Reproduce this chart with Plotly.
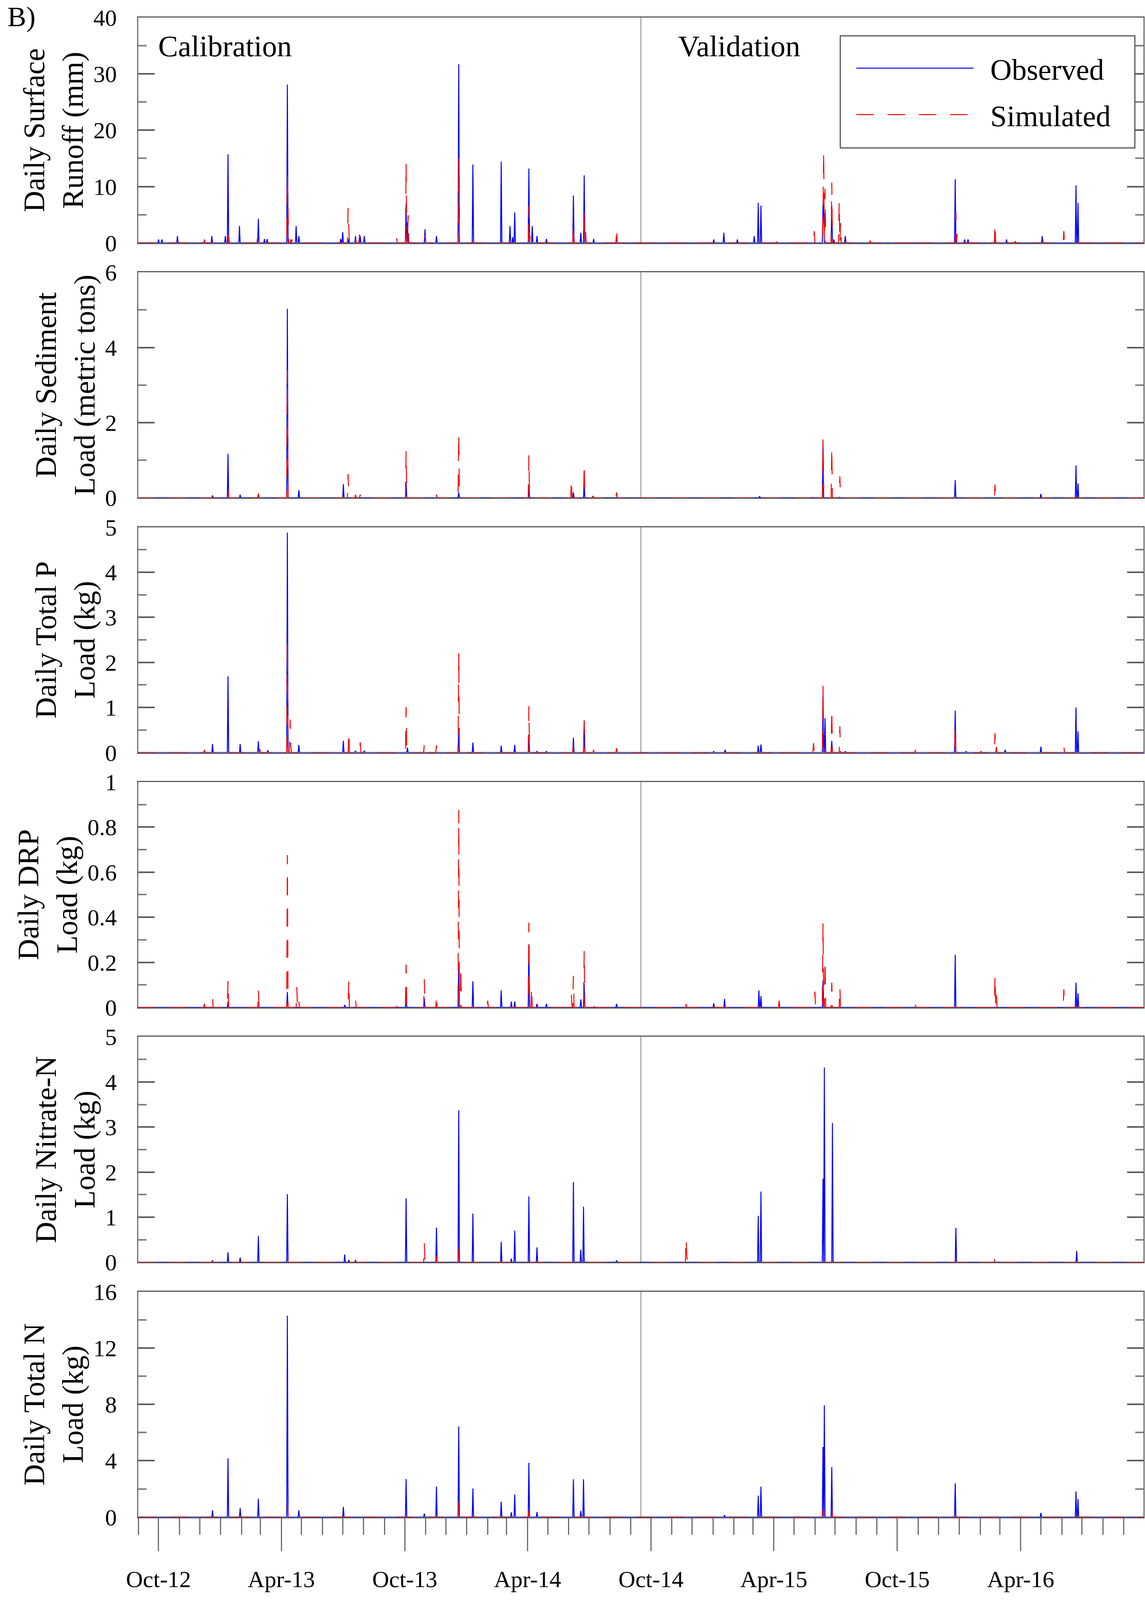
import pandas as pd
import plotly.graph_objects as go
from plotly.subplots import make_subplots

# ---------------- data ----------------
START, END = "2012-09-01", "2016-09-30"
VALIDATION_START = "2014-09-16"

# Panel 1: Daily Surface Runoff (mm)
runoff_obs_dates = ["2012-10-01", "2012-10-06", "2012-10-29", "2012-12-19", "2013-01-08", "2013-01-12",
                    "2013-01-29", "2013-02-26", "2013-03-07", "2013-03-11", "2013-04-10", "2013-04-23",
                    "2013-04-27", "2013-06-28", "2013-07-01", "2013-07-10", "2013-07-20", "2013-07-27",
                    "2013-08-02", "2013-10-03", "2013-10-05", "2013-10-31", "2013-11-17", "2013-12-20",
                    "2014-01-10", "2014-02-21", "2014-03-06", "2014-03-10", "2014-03-13", "2014-04-03",
                    "2014-04-08", "2014-04-15", "2014-04-29", "2014-06-08", "2014-06-19", "2014-06-24",
                    "2014-07-08", "2014-08-11", "2015-01-02", "2015-01-17", "2015-02-06", "2015-03-03",
                    "2015-03-09", "2015-03-13", "2015-06-13", "2015-06-14", "2015-06-26", "2015-06-29",
                    "2015-07-16", "2015-12-26", "2016-01-09", "2016-01-14", "2016-02-23", "2016-03-11",
                    "2016-05-03", "2016-06-22", "2016-06-25"]
runoff_obs_vals = [0.6, 0.6, 1.2, 1.2, 1.2, 15.7,
                   3.0, 4.3, 0.7, 0.7, 28.1, 3.0,
                   1.2, 0.7, 1.9, 0.7, 1.2, 1.2,
                   1.2, 7.0, 3.6, 2.4, 1.2, 31.7,
                   13.9, 14.4, 3.0, 1.0, 5.4, 13.2,
                   3.0, 1.2, 0.7, 8.4, 1.8, 12.0,
                   0.7, 1.2, 0.6, 1.8, 0.6, 1.2,
                   7.1, 6.6, 6.6, 7.7, 6.6, 0.6,
                   1.2, 11.3, 0.6, 0.6, 0.4, 0.6,
                   1.2, 10.2, 7.1]
runoff_sim_dates = ["2012-12-08", "2013-01-13", "2013-02-25", "2013-04-10", "2013-04-11", "2013-04-15",
                    "2013-04-17", "2013-07-09", "2013-07-10", "2013-07-20", "2013-07-26", "2013-09-19",
                    "2013-10-03", "2013-10-06", "2013-10-31", "2013-12-20", "2014-04-03", "2014-04-05",
                    "2014-06-08", "2014-06-24", "2014-06-26", "2014-08-11", "2014-09-08", "2015-04-06",
                    "2015-05-31", "2015-06-13", "2015-06-14", "2015-06-16", "2015-06-26", "2015-07-07",
                    "2015-07-09", "2015-08-22", "2015-10-27", "2015-12-27", "2015-12-29", "2016-02-03",
                    "2016-02-23", "2016-03-09", "2016-03-24", "2016-06-04"]
runoff_sim_vals = [0.6, 1.3, 1.3, 12.1, 6.3, 0.6,
                   0.6, 6.2, 2.4, 0.9, 1.5, 0.8,
                   14.1, 4.9, 1.4, 15.0, 6.6, 1.3,
                   3.2, 5.8, 1.9, 2.7, 0.4, 0.3,
                   2.1, 5.2, 16.2, 9.6, 10.7, 7.3,
                   3.5, 0.4, 1.1, 5.5, 1.7, 0.3,
                   3.4, 1.0, 0.3, 2.1]

# Panel 2: Daily Sediment Load (metric tons)
sed_obs_dates = ["2012-12-20", "2013-01-12", "2013-01-30", "2013-02-26", "2013-04-10", "2013-04-27",
                 "2013-07-02", "2013-10-03", "2013-12-20", "2014-04-03", "2014-06-08", "2014-06-24",
                 "2015-03-11", "2015-06-13", "2015-12-26", "2016-05-01", "2016-06-22", "2016-06-25"]
sed_obs_vals = [0.06, 1.17, 0.08, 0.08, 5.03, 0.2,
                0.36, 0.4, 0.14, 0.33, 0.14, 0.41,
                0.04, 1.44, 0.47, 0.1, 0.86, 0.38]
sed_sim_dates = ["2013-01-12", "2013-02-26", "2013-04-10", "2013-07-09", "2013-07-20", "2013-07-27",
                 "2013-10-03", "2013-11-17", "2013-12-20", "2014-04-03", "2014-06-05", "2014-06-24",
                 "2014-07-07", "2014-08-11", "2015-05-29", "2015-06-13", "2015-06-26", "2015-07-08",
                 "2015-12-26", "2016-02-23"]
sed_sim_vals = [0.17, 0.11, 3.4, 0.63, 0.08, 0.08,
                1.24, 0.08, 1.71, 1.13, 0.49, 0.9,
                0.05, 0.14, 0.14, 1.55, 1.33, 0.57,
                0.06, 0.35]

# Panel 3: Daily Total P Load (kg)
tp_obs_dates = ["2012-12-20", "2013-01-12", "2013-01-30", "2013-02-26", "2013-03-12", "2013-04-10",
                "2013-04-27", "2013-07-02", "2013-07-20", "2013-08-02", "2013-10-05", "2013-12-20",
                "2014-01-10", "2014-02-21", "2014-03-13", "2014-04-03", "2014-04-15", "2014-04-29",
                "2014-06-08", "2014-06-24", "2015-01-02", "2015-01-19", "2015-03-09", "2015-03-13",
                "2015-06-13", "2015-06-16", "2015-06-26", "2015-07-16", "2015-12-26", "2016-01-11",
                "2016-03-09", "2016-05-01", "2016-06-22", "2016-06-25"]
tp_obs_vals = [0.19, 1.69, 0.19, 0.25, 0.05, 4.88,
               0.17, 0.26, 0.04, 0.04, 0.11, 0.55,
               0.22, 0.15, 0.17, 0.37, 0.03, 0.03,
               0.33, 0.71, 0.03, 0.06, 0.15, 0.18,
               1.28, 0.76, 0.26, 0.03, 0.93, 0.03,
               0.06, 0.13, 1.0, 0.47]
tp_sim_dates = ["2012-12-08", "2013-02-28", "2013-04-10", "2013-04-14", "2013-04-15", "2013-07-10",
                "2013-07-27", "2013-10-03", "2013-10-30", "2013-11-17", "2013-12-20", "2014-04-03",
                "2014-06-08", "2014-06-24", "2014-07-08", "2014-08-11", "2014-11-22", "2015-04-11",
                "2015-05-30", "2015-06-13", "2015-06-26", "2015-07-08", "2015-10-28", "2015-12-26",
                "2016-02-02", "2016-02-23", "2016-02-25", "2016-03-09", "2016-06-04"]
tp_sim_vals = [0.06, 0.08, 2.46, 0.73, 0.16, 0.46,
               0.23, 1.01, 0.2, 0.16, 2.22, 1.03,
               0.16, 0.71, 0.06, 0.1, 0.03, 0.06,
               0.21, 1.48, 0.96, 0.58, 0.06, 0.56,
               0.03, 0.43, 0.13, 0.1, 0.15]

# Panel 4: Daily DRP Load (kg)
drp_obs_dates = ["2013-01-12", "2013-04-10", "2013-07-04", "2013-10-03", "2013-10-30", "2013-12-20",
                 "2014-01-10", "2014-02-21", "2014-03-08", "2014-03-13", "2014-04-03", "2014-04-15",
                 "2014-04-29", "2014-06-19", "2014-06-24", "2014-08-11", "2015-01-02", "2015-01-18",
                 "2015-03-10", "2015-03-13", "2015-06-13", "2015-12-26", "2016-06-22", "2016-06-25"]
drp_obs_vals = [0.025, 0.068, 0.011, 0.05, 0.04, 0.2,
                0.116, 0.075, 0.026, 0.026, 0.28, 0.016,
                0.016, 0.035, 0.105, 0.016, 0.018, 0.038,
                0.075, 0.05, 0.12, 0.233, 0.11, 0.063]
drp_sim_dates = ["2012-12-08", "2012-12-20", "2013-01-12", "2013-02-26", "2013-04-10", "2013-04-24",
                 "2013-04-27", "2013-07-10", "2013-07-20", "2013-09-20", "2013-10-03", "2013-10-30",
                 "2013-11-17", "2013-12-20", "2013-12-23", "2014-02-01", "2014-04-03", "2014-04-07",
                 "2014-06-05", "2014-06-08", "2014-06-24", "2014-07-08", "2014-11-22", "2015-04-09",
                 "2015-06-01", "2015-06-13", "2015-06-16", "2015-06-26", "2015-07-08", "2015-10-28",
                 "2016-02-23", "2016-02-25", "2016-03-11", "2016-06-04"]
drp_sim_vals = [0.016, 0.05, 0.12, 0.08, 0.676, 0.09,
                0.03, 0.12, 0.04, 0.011, 0.19, 0.125,
                0.056, 0.876, 0.18, 0.03, 0.376, 0.09,
                0.056, 0.14, 0.25, 0.03, 0.015, 0.03,
                0.07, 0.373, 0.21, 0.11, 0.09, 0.011,
                0.143, 0.055, 0.016, 0.08]

# Panel 5: Daily Nitrate-N Load (kg)
no3_obs_dates = ["2012-12-20", "2013-01-12", "2013-01-30", "2013-02-26", "2013-04-10", "2013-07-04",
                 "2013-07-10", "2013-07-20", "2013-10-03", "2013-11-17", "2013-12-20", "2014-01-10",
                 "2014-02-21", "2014-03-08", "2014-03-13", "2014-04-03", "2014-04-15", "2014-06-08",
                 "2014-06-19", "2014-06-23", "2014-08-11", "2015-03-09", "2015-03-13", "2015-06-13",
                 "2015-06-15", "2015-06-27", "2015-12-27", "2016-06-23"]
no3_obs_vals = [0.04, 0.22, 0.1, 0.58, 1.51, 0.17,
                0.05, 0.05, 1.42, 0.77, 3.37, 1.08,
                0.45, 0.08, 0.7, 1.46, 0.33, 1.78,
                0.28, 1.23, 0.04, 1.03, 1.57, 1.85,
                4.32, 3.09, 0.76, 0.25]
no3_sim_dates = ["2013-04-10", "2013-10-30", "2013-11-17", "2013-12-20", "2014-11-22", "2014-11-23",
                 "2016-02-23"]
no3_sim_vals = [0.12, 0.42, 0.13, 0.29, 0.53, 0.18,
                0.13]

# Panel 6: Daily Total N Load (kg)
tn_obs_dates = ["2012-12-20", "2013-01-12", "2013-01-30", "2013-02-26", "2013-04-10", "2013-04-27",
                "2013-07-02", "2013-10-03", "2013-10-30", "2013-11-17", "2013-12-20", "2014-01-10",
                "2014-02-21", "2014-03-08", "2014-03-13", "2014-04-03", "2014-04-15", "2014-06-08",
                "2014-06-19", "2014-06-23", "2015-01-18", "2015-03-09", "2015-03-13", "2015-06-13",
                "2015-06-15", "2015-06-26", "2015-12-26", "2016-05-01", "2016-06-22", "2016-06-25"]
tn_obs_vals = [0.48, 4.17, 0.64, 1.3, 14.3, 0.48,
               0.72, 2.7, 0.25, 2.17, 6.44, 2.03,
               1.09, 0.34, 1.6, 3.85, 0.35, 2.68,
               0.43, 2.68, 0.14, 1.52, 2.16, 4.98,
               7.94, 3.55, 2.39, 0.3, 1.82, 1.28]
tn_sim_dates = ["2013-04-10", "2013-12-20", "2014-04-03", "2015-06-13", "2015-06-26"]
tn_sim_vals = [0.9, 1.07, 0.48, 0.59, 0.53]

panel_titles = ["Daily Surface<br>Runoff (mm)", "Daily Sediment<br>Load (metric tons)",
                "Daily Total P<br>Load (kg)", "Daily DRP<br>Load (kg)",
                "Daily Nitrate-N<br>Load (kg)", "Daily Total N<br>Load (kg)"]
y_max = [40, 6, 5, 1, 5, 16]
y_major = [10, 2, 1, 0.2, 1, 4]
y_minor = [5, 1, 0.5, 0.1, 0.5, 2]
legend_names = ["Observed", "Simulated"]

series = [
    (runoff_obs_dates, runoff_obs_vals, runoff_sim_dates, runoff_sim_vals),
    (sed_obs_dates, sed_obs_vals, sed_sim_dates, sed_sim_vals),
    (tp_obs_dates, tp_obs_vals, tp_sim_dates, tp_sim_vals),
    (drp_obs_dates, drp_obs_vals, drp_sim_dates, drp_sim_vals),
    (no3_obs_dates, no3_obs_vals, no3_sim_dates, no3_sim_vals),
    (tn_obs_dates, tn_obs_vals, tn_sim_dates, tn_sim_vals),
]

# ---------------- build ----------------
days = pd.date_range(START, END, freq="D")


def daily(ev_dates, ev_vals):
    s = pd.Series(0.0, index=days)
    s.loc[pd.to_datetime(ev_dates)] = ev_vals
    return s


# reference geometry (pixels of the 2931 x 4282 reference), expressed as page fractions
W, H = 2931, 4282
PLOT_L, PLOT_R = 354, 2927
PANEL_TOP0, PANEL_H, PANEL_STEP = 47, 603, 682


def fx(x):
    return x / W


def fy(y):
    return 1 - y / H


FONT = "Liberation Serif"
BLUE, RED = "#0000ff", "#ff0000"
AX = "#5a5a5a"
NB = "\u00a0\u00a0"

fig = make_subplots(rows=6, cols=1, shared_xaxes=True)

for i, (od, ov, sd, sv) in enumerate(series):
    r = i + 1
    o = daily(od, ov)
    s = daily(sd, sv)
    fig.add_trace(go.Scatter(x=o.index, y=o.values, mode="lines", name=NB + legend_names[0],
                             line=dict(color=BLUE, width=2.5), showlegend=(i == 0),
                             legendgroup="obs"), row=r, col=1)
    fig.add_trace(go.Scatter(x=s.index, y=s.values, mode="lines", name=NB + legend_names[1],
                             line=dict(color=RED, width=2.5, dash="45px,35px"), showlegend=(i == 0),
                             legendgroup="sim"), row=r, col=1)

    top = PANEL_TOP0 + i * PANEL_STEP
    fig.update_yaxes(row=r, col=1, domain=[fy(top + PANEL_H), fy(top)], range=[0, y_max[i]],
                     dtick=y_major[i], tick0=0,
                     ticks="inside", ticklen=42, tickwidth=4, tickcolor=AX,
                     minor=dict(dtick=y_minor[i], tick0=0, ticks="inside", ticklen=21, tickwidth=4,
                                tickcolor="#808080", showgrid=False),
                     showline=True, linecolor="#707070", linewidth=3, mirror="ticks",
                     showgrid=False, zeroline=False, ticklabelstandoff=40,
                     tickfont=dict(family=FONT, size=60, color="black"),
                     title=dict(text=panel_titles[i], font=dict(family=FONT, size=76, color="black"),
                                standoff=2))
    fig.update_xaxes(row=r, col=1, domain=[fx(PLOT_L), fx(PLOT_R)], range=[START, END],
                     showline=True, linecolor=AX, linewidth=3,
                     mirror=True, showgrid=False, zeroline=False)
    if r < 6:
        fig.update_xaxes(row=r, col=1, showticklabels=False, ticks="")
    fig.add_shape(type="line", xref=f"x{'' if r == 1 else r}", yref=f"y{'' if r == 1 else r} domain",
                  x0=VALIDATION_START, x1=VALIDATION_START, y0=0, y1=1,
                  line=dict(color="#a8a8a8", width=3), layer="below")

fig.update_xaxes(row=6, col=1, ticks="outside", ticklen=84, tickwidth=3, tickcolor="#6a6a6a",
                 tick0="2012-10-01", dtick="M6", tickformat="%b-%y", ticklabelstandoff=20,
                 tickfont=dict(family=FONT, size=60, color="black"),
                 minor=dict(dtick="M1", ticks="outside", ticklen=42, tickwidth=3, tickcolor="#6a6a6a",
                            showgrid=False))

fig.add_annotation(text="Calibration", xref="paper", yref="paper", x=fx(403), y=fy(123),
                   xanchor="left", yanchor="middle", showarrow=False,
                   font=dict(family=FONT, size=76, color="black"))
fig.add_annotation(text="Validation", xref="paper", yref="paper", x=fx(1734), y=fy(123),
                   xanchor="left", yanchor="middle", showarrow=False,
                   font=dict(family=FONT, size=76, color="black"))
fig.add_annotation(text="B)", xref="paper", yref="paper", x=fx(17), y=fy(45),
                   xanchor="left", yanchor="middle", showarrow=False,
                   font=dict(family=FONT, size=72, color="black"))

# legend frame
fig.add_shape(type="rect", xref="paper", yref="paper", x0=fx(2151), x1=fx(2905),
              y0=fy(396), y1=fy(96), line=dict(color="#555555", width=3),
              fillcolor="white", layer="above")

fig.update_layout(
    autosize=True, margin=dict(l=0, r=0, t=0, b=0, autoexpand=False),
    paper_bgcolor="white", plot_bgcolor="white",
    font=dict(family=FONT, color="black"),
    legend=dict(x=fx(2187), y=fy(124), xanchor="left", yanchor="top",
                bgcolor="rgba(0,0,0,0)", borderwidth=0,
                font=dict(family=FONT, size=76, color="black"), itemwidth=300,
                tracegroupgap=17),
)

fig.write_html(
    "out.html",
    default_width="100vw", default_height="100vh",
    config={"displayModeBar": False, "responsive": True},
    post_script=("document.body.style.margin='0px';"
                 "document.documentElement.style.overflow='hidden';"
                 "document.body.style.overflow='hidden';"
                 "Plotly.Plots.resize(document.getElementById('{plot_id}'));"),
)
